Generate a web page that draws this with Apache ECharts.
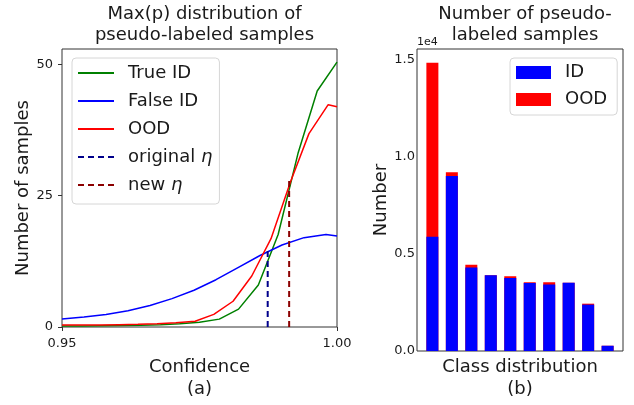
<!DOCTYPE html>
<html>
<head>
<meta charset="utf-8">
<script src="https://cdn.jsdelivr.net/npm/echarts@6/dist/echarts.min.js"></script>
<style>html,body{margin:0;padding:0;background:#fff;}#c{width:634px;height:405px;}</style>
</head>
<body>
<div id="c"></div>
<script>
// ---- Chart (a): Max(p) distribution ----
const trueIdX = [0.95, 0.9536, 0.9571, 0.9607, 0.9643, 0.9679, 0.9714, 0.975, 0.9786, 0.9821, 0.9857, 0.9893, 0.9929, 0.9964, 1.0];
const trueId  = [0.2, 0.2, 0.25, 0.3, 0.35, 0.45, 0.6, 0.9, 1.5, 3.4, 8.0, 17.6, 33.0, 44.9, 50.4];
const falseIdX = [0.95, 0.954, 0.958, 0.962, 0.966, 0.970, 0.974, 0.978, 0.982, 0.986, 0.990, 0.994, 0.998, 1.0];
const falseId  = [1.5, 1.9, 2.4, 3.1, 4.1, 5.4, 7.0, 9.0, 11.3, 13.6, 15.6, 17.0, 17.6, 17.3];
const oodX = [0.95, 0.9535, 0.9569, 0.9604, 0.9638, 0.9673, 0.9707, 0.9742, 0.9776, 0.9811, 0.9845, 0.988, 0.9915, 0.9949, 0.9984, 1.0];
const ood  = [0.37, 0.37, 0.4, 0.45, 0.5, 0.6, 0.8, 1.1, 2.4, 4.9, 9.7, 16.8, 27.5, 36.8, 42.3, 41.9];
const originalEta = 0.9874, originalEtaTop = 14.5;
const newEta = 0.9913, newEtaTop = 27.8;
const lineXTicks = [0.95, 1.00];
const lineYTicks = [0, 25, 50];

// ---- Chart (b): Number of pseudo-labeled samples ----
const classIdx = [0, 1, 2, 3, 4, 5, 6, 7, 8, 9];
const idCounts  = [5890, 9020, 4310, 3910, 3770, 3500, 3430, 3520, 2390, 270];
const oodCounts = [8970, 200, 140, 0, 90, 50, 120, 0, 50, 0];
const barYTicks = [0, 5000, 10000, 15000];

const FONT = 'DejaVu Sans';
const TXT = '#1a1a1a';
const zip = (xs, ys) => xs.map((x, i) => [x, ys[i]]);
// stacked top of each bar (ID + OOD), drawn behind the ID bar
const stackTop = idCounts.map((v, i) => v + oodCounts[i]);

const chart = echarts.init(document.getElementById('c'), null, {renderer: 'canvas'});
const option = {
  backgroundColor: '#fff',
  animation: false,
  textStyle: {fontFamily: FONT, color: TXT},
  title: [
    {text: 'Max(p) distribution of\npseudo-labeled samples', left: 199.5, top: -1, textAlign: 'center',
     textStyle: {fontFamily: FONT, fontSize: 18, fontWeight: 'normal', color: TXT, lineHeight: 21}},
    {text: 'Number of pseudo-\nlabeled samples', left: 520, top: -1, textAlign: 'center',
     textStyle: {fontFamily: FONT, fontSize: 18, fontWeight: 'normal', color: TXT, lineHeight: 21}}
  ],
  grid: [
    {left: 62, top: 49, width: 275, height: 288, show: true, borderColor: '#333', borderWidth: 1, backgroundColor: 'transparent'},
    {left: 417, top: 49, width: 206, height: 307, show: true, borderColor: '#333', borderWidth: 1, backgroundColor: 'transparent'}
  ],
  legend: [
    {
      data: ['True ID', 'False ID', 'OOD', 'original η', 'new η'],
      orient: 'vertical', left: 72, top: 58,
      itemWidth: 36, itemHeight: 14, itemGap: 8,
      padding: [5, 7, 9, 5],
      itemStyle: {opacity: 0},
      backgroundColor: 'rgba(255,255,255,0.85)', borderColor: '#d6d6d6', borderWidth: 1, borderRadius: 4,
      textStyle: {fontFamily: FONT, fontSize: 18, color: TXT, lineHeight: 20, padding: [0, 0, 0, 9],
        rich: {i: {fontFamily: FONT, fontSize: 18, fontStyle: 'italic', color: TXT}}},
      formatter: function (n) { return n.replace('η', '{i|η}'); }
    },
    {
      data: ['ID', 'OOD '],
      orient: 'vertical', left: 510, top: 58,
      icon: 'rect', itemWidth: 35, itemHeight: 13, itemGap: 8,
      padding: [5, 10, 6, 6],
      backgroundColor: 'rgba(255,255,255,0.85)', borderColor: '#d6d6d6', borderWidth: 1, borderRadius: 4,
      textStyle: {fontFamily: FONT, fontSize: 18, color: TXT, lineHeight: 19, padding: [0, 0, 0, 9]},
      formatter: function (n) { return n.trim(); }
    }
  ],
  xAxis: [
    {gridIndex: 0, type: 'value', min: 0.95, max: 1.0, interval: 0.05,
     name: 'Confidence\n(a)', nameLocation: 'middle', nameGap: 29,
     nameTextStyle: {fontFamily: FONT, fontSize: 18, color: TXT, lineHeight: 22, verticalAlign: 'top'},
     axisLine: {show: false, onZero: false}, splitLine: {show: false},
     axisTick: {show: true, length: 4, lineStyle: {color: '#333'}},
     axisLabel: {fontFamily: FONT, fontSize: 13, color: TXT, margin: 10, showMinLabel: true, showMaxLabel: true,
       formatter: v => lineXTicks.some(t => Math.abs(t - v) < 1e-9) ? v.toFixed(2) : ''}},
    {gridIndex: 1, type: 'value', min: -0.79, max: 9.79,
     name: 'Class distribution\n(b)', nameLocation: 'middle', nameGap: 5,
     nameTextStyle: {fontFamily: FONT, fontSize: 18, color: TXT, lineHeight: 22, verticalAlign: 'top'},
     axisLine: {show: false, onZero: false}, splitLine: {show: false}, axisTick: {show: false}, axisLabel: {show: false}}
  ],
  yAxis: [
    {gridIndex: 0, type: 'value', min: 0, max: 52.9, interval: 25,
     name: 'Number of samples', nameLocation: 'middle', nameGap: 28,
     nameTextStyle: {fontFamily: FONT, fontSize: 18, color: TXT},
     axisLine: {show: false, onZero: false}, splitLine: {show: false},
     axisTick: {show: true, length: 4, lineStyle: {color: '#333'}},
     axisLabel: {fontFamily: FONT, fontSize: 13, color: TXT, margin: 9, showMaxLabel: false,
       formatter: v => lineYTicks.includes(v) ? String(v) : ''}},
    {gridIndex: 1, type: 'value', min: 0, max: 15570, interval: 5000,
     name: 'Number', nameLocation: 'middle', nameGap: 26,
     nameTextStyle: {fontFamily: FONT, fontSize: 18, color: TXT},
     axisLine: {show: false, onZero: false}, splitLine: {show: false},
     axisTick: {show: false},
     axisLabel: {fontFamily: FONT, fontSize: 13, color: TXT, margin: 2, showMaxLabel: false,
       formatter: v => barYTicks.includes(v) ? (v / 10000).toFixed(1) : ''}}
  ],
  graphic: [
    {type: 'text', left: 417, top: 37, style: {text: '1e4', fontFamily: FONT, fontSize: 11, fill: TXT}}
  ],
  series: [
    {name: 'True ID', type: 'line', xAxisIndex: 0, yAxisIndex: 0, data: zip(trueIdX, trueId),
     symbol: 'none', lineStyle: {color: '#008000', width: 1.5}, itemStyle: {color: '#008000'}, z: 3},
    {name: 'False ID', type: 'line', xAxisIndex: 0, yAxisIndex: 0, data: zip(falseIdX, falseId),
     symbol: 'none', lineStyle: {color: '#0000ff', width: 1.5}, itemStyle: {color: '#0000ff'}, z: 3},
    {name: 'OOD', type: 'line', xAxisIndex: 0, yAxisIndex: 0, data: zip(oodX, ood),
     symbol: 'none', lineStyle: {color: '#ff0000', width: 1.5}, itemStyle: {color: '#ff0000'}, z: 3},
    {name: 'original η', type: 'line', xAxisIndex: 0, yAxisIndex: 0,
     data: [[originalEta, 0], [originalEta, originalEtaTop]],
     symbol: 'none', lineStyle: {color: '#00008b', width: 2, type: [6, 4]}, itemStyle: {color: '#00008b'}, z: 4},
    {name: 'new η', type: 'line', xAxisIndex: 0, yAxisIndex: 0,
     data: [[newEta, 0], [newEta, newEtaTop]],
     symbol: 'none', lineStyle: {color: '#8b0000', width: 2, type: [6, 4]}, itemStyle: {color: '#8b0000'}, z: 4},
    {name: 'OOD ', type: 'bar', xAxisIndex: 1, yAxisIndex: 1, barWidth: 12, barGap: '-100%',
     data: zip(classIdx, stackTop), itemStyle: {color: '#ff0000'}, z: 2},
    {name: 'ID', type: 'bar', xAxisIndex: 1, yAxisIndex: 1, barWidth: 12, barGap: '-100%',
     data: zip(classIdx, idCounts), itemStyle: {color: '#0000ff'}, z: 3}
  ]
};
chart.setOption(option);
</script>
</body>
</html>
